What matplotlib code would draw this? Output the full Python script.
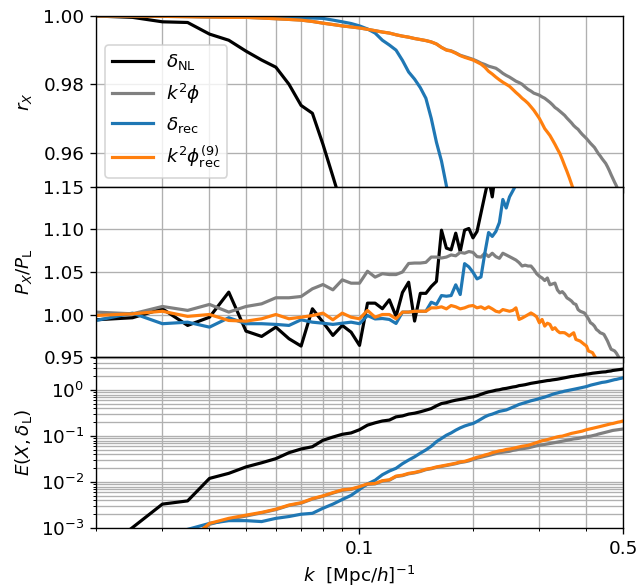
import numpy as np
import matplotlib
matplotlib.use("Agg")
import matplotlib.pyplot as plt
from matplotlib.ticker import FixedLocator, NullFormatter, LogLocator, FixedFormatter

# ---------------- data ----------------
# k bins [Mpc/h]^-1 (uniform bins of 0.005)
k = np.round(np.arange(0.020, 0.5001, 0.005), 3)

# series start k (first bin) for each array
start_r_nl, start_r_phi, start_r_rec, start_r_phirec = 0.020, 0.020, 0.020, 0.020

# top panel: cross-correlation coefficient r_X
r_nl = [1.0000, 0.9996, 0.9983, 0.9981, 0.9947, 0.9929, 0.9897, 0.9871, 0.9850, 0.9800,
        0.9738, 0.9715, 0.9624, 0.9530, 0.9440]
r_rec = [1.0000, 1.0000, 0.9999, 0.9999, 0.9998, 0.9998, 0.9997, 0.9996, 0.9996, 0.9995,
         0.9994, 0.9994, 0.9993, 0.9988, 0.9983, 0.9978, 0.9971, 0.9962, 0.9950, 0.9929,
         0.9915, 0.9900, 0.9870, 0.9836, 0.9815, 0.9790, 0.9759, 0.9700, 0.9630, 0.9575,
         0.9503, 0.9430]
r_phirec = [1.0000, 0.99995, 0.9999, 0.9998, 0.9997, 0.9996, 0.9996, 0.9994, 0.9992, 0.9990,
            0.9988, 0.9984, 0.9979, 0.9975, 0.9971, 0.9968, 0.9965, 0.9961, 0.9957, 0.9953,
            0.9950, 0.9945, 0.9941, 0.9938, 0.9934, 0.9931, 0.9928, 0.9924, 0.9918, 0.9908,
            0.9900, 0.9897, 0.9891, 0.9884, 0.9879, 0.9875, 0.9871, 0.9865, 0.9859, 0.9850,
            0.9838, 0.9830, 0.9821, 0.9813, 0.9806, 0.9800, 0.9794, 0.9785, 0.9776, 0.9768,
            0.9759, 0.9752, 0.9744, 0.9734, 0.9724, 0.9712, 0.9700, 0.9685, 0.9670, 0.9660,
            0.9650, 0.9637, 0.9624, 0.9610, 0.9597, 0.9580, 0.9562, 0.9545, 0.9527, 0.9508,
            0.9488, 0.9470]
r_phi = [1.0000, 0.99995, 0.9999, 0.9998, 0.9997, 0.9996, 0.9996, 0.9994, 0.9992, 0.9990,
         0.9988, 0.9984, 0.9979, 0.9975, 0.9971, 0.9968, 0.9965, 0.9961, 0.9957, 0.9953,
         0.9950, 0.9945, 0.9941, 0.9938, 0.9934, 0.9931, 0.9928, 0.9924, 0.9918, 0.9908,
         0.9901, 0.9898, 0.9892, 0.9885, 0.9881, 0.9877, 0.9873, 0.9868, 0.9862, 0.9858,
         0.9853, 0.9850, 0.9847, 0.9840, 0.9832, 0.9826, 0.9821, 0.9815, 0.9809, 0.9805,
         0.9800, 0.9792, 0.9785, 0.9780, 0.9774, 0.9771, 0.9768, 0.9763, 0.9759, 0.9753,
         0.9747, 0.9740, 0.9732, 0.9727, 0.9721, 0.9715, 0.9709, 0.9701, 0.9694, 0.9687,
         0.9679, 0.9673, 0.9668, 0.9660, 0.9653, 0.9647, 0.9641, 0.9634, 0.9627, 0.9621,
         0.9615, 0.9606, 0.9597, 0.9590, 0.9582, 0.9575, 0.9568, 0.9558, 0.9547, 0.9535,
         0.9524, 0.9513, 0.9503, 0.9491, 0.9480, 0.9470, 0.9460]

# middle panel: P_X / P_L
p_nl = [0.9940, 0.9964, 1.0069, 0.9874, 0.9970, 1.0264, 0.9807, 0.9745, 0.9854, 0.9718,
        0.9632, 1.0069, 0.9912, 0.9757, 0.9874, 0.9795, 0.9640, 1.0135, 1.0135, 1.0070,
        1.0174, 0.9980, 1.0260, 1.0380, 0.9925, 1.0250, 1.0250, 1.0330, 1.0390, 1.0990,
        1.0780, 1.0760, 1.0955, 1.0740, 1.0990, 1.1010, 1.0900, 1.0975, 1.1190, 1.1400,
        1.1600, 1.1380, 1.1700, 1.1900]
p_phi = [1.0030, 1.0010, 1.0096, 1.0050, 1.0120, 1.0030, 1.0096, 1.0127, 1.0198, 1.0198,
         1.0213, 1.0303, 1.0353, 1.0291, 1.0408, 1.0369, 1.0369, 1.0509, 1.0440, 1.0480,
         1.0470, 1.0470, 1.0500, 1.0600, 1.0605, 1.0605, 1.0613, 1.0675, 1.0675, 1.0664,
         1.0675, 1.0700, 1.0690, 1.0730, 1.0720, 1.0740, 1.0730, 1.0680, 1.0675, 1.0720,
         1.0680, 1.0720, 1.0680, 1.0660, 1.0720, 1.0700, 1.0680, 1.0660, 1.0640, 1.0610,
         1.0570, 1.0580, 1.0570, 1.0570, 1.0530, 1.0480, 1.0450, 1.0430, 1.0400, 1.0430,
         1.0350, 1.0360, 1.0370, 1.0290, 1.0255, 1.0270, 1.0240, 1.0197, 1.0180, 1.0160,
         1.0130, 1.0120, 1.0060, 1.0040, 1.0030, 1.0020, 0.9985, 0.9950, 0.9905, 0.9890,
         0.9866, 0.9827, 0.9810, 0.9788, 0.9780, 0.9769, 0.9730, 0.9690, 0.9640, 0.9594,
         0.9585, 0.9575, 0.9550, 0.9516, 0.9480, 0.9460, 0.9430]
p_rec = [0.9932, 1.0018, 0.9894, 0.9912, 0.9854, 0.9964, 0.9894, 0.9894, 0.9886, 0.9874,
         0.9940, 0.9912, 0.9900, 0.9886, 0.9900, 0.9912, 0.9894, 0.9990, 0.9950, 0.9955,
         0.9944, 0.9897, 1.0030, 1.0030, 1.0040, 1.0040, 1.0040, 1.0146, 1.0120, 1.0224,
         1.0216, 1.0224, 1.0350, 1.0236, 1.0598, 1.0560, 1.0497, 1.0419, 1.0442, 1.0720,
         1.0963, 1.0917, 1.0975, 1.1080, 1.1350, 1.1250, 1.1380, 1.1450, 1.1520, 1.1600]
p_phirec = [0.9990, 1.0010, 1.0040, 0.9980, 1.0002, 0.9932, 0.9924, 0.9952, 1.0002, 0.9952,
            0.9970, 0.9990, 1.0018, 0.9940, 1.0018, 0.9970, 0.9952, 1.0050, 0.9970, 1.0002,
            1.0002, 0.9952, 1.0030, 1.0030, 1.0040, 1.0040, 1.0040, 1.0080, 1.0080, 1.0092,
            1.0068, 1.0107, 1.0092, 1.0068, 1.0080, 1.0100, 1.0107, 1.0080, 1.0092, 1.0068,
            1.0092, 1.0068, 1.0040, 1.0030, 1.0060, 1.0050, 1.0040, 1.0050, 1.0080, 0.9944,
            0.9960, 0.9980, 1.0000, 1.0020, 1.0000, 0.9975, 0.9905, 0.9944, 0.9866, 0.9900,
            0.9886, 0.9827, 0.9847, 0.9810, 0.9788, 0.9790, 0.9788, 0.9770, 0.9750, 0.9770,
            0.9788, 0.9710, 0.9700, 0.9690, 0.9670, 0.9650, 0.9633, 0.9574, 0.9565, 0.9555,
            0.9516, 0.9480]

# bottom panel: log10 E(X, delta_L); first bins differ per series
start_E_nl, start_E_rec, start_E_phi, start_E_phirec = 0.020, 0.030, 0.035, 0.035
logE_nl = [-3.60, -2.99, -2.48, -2.41, -1.92, -1.81, -1.67, -1.58, -1.49, -1.36,
           -1.28, -1.23, -1.09, -1.02, -0.96, -0.93, -0.86, -0.76, -0.71, -0.67,
           -0.65, -0.58, -0.56, -0.52, -0.50, -0.47, -0.435, -0.40, -0.34, -0.29,
           -0.27, -0.24, -0.217, -0.20, -0.18, -0.16, -0.145, -0.12, -0.09, -0.06,
           -0.036, -0.02, 0.00, 0.01, 0.03, 0.04, 0.055, 0.07, 0.08, 0.10,
           0.109, 0.12, 0.135, 0.15, 0.16, 0.17, 0.181, 0.19, 0.20, 0.21,
           0.215, 0.225, 0.232, 0.24, 0.25, 0.26, 0.27, 0.28, 0.29, 0.30,
           0.305, 0.315, 0.32, 0.33, 0.335, 0.345, 0.35, 0.355, 0.362, 0.37,
           0.375, 0.38, 0.385, 0.39, 0.395, 0.398, 0.40, 0.41, 0.415, 0.42,
           0.43, 0.435, 0.44, 0.445, 0.45, 0.455, 0.46]
logE_rec = [-3.25, -3.03, -2.90, -2.84, -2.84, -2.86, -2.79, -2.75, -2.70, -2.68,
            -2.57, -2.48, -2.38, -2.29, -2.16, -2.04, -1.96, -1.84, -1.76, -1.70,
            -1.60, -1.52, -1.45, -1.37, -1.30, -1.22, -1.12, -1.05, -0.98, -0.93,
            -0.87, -0.82, -0.78, -0.75, -0.725, -0.68, -0.63, -0.58, -0.543, -0.52,
            -0.49, -0.46, -0.445, -0.43, -0.40, -0.37, -0.34, -0.31, -0.29, -0.27,
            -0.25, -0.23, -0.215, -0.20, -0.181, -0.165, -0.15, -0.13, -0.11, -0.09,
            -0.072, -0.06, -0.045, -0.035, -0.02, -0.01, 0.00, 0.01, 0.02, 0.03,
            0.04, 0.05, 0.06, 0.07, 0.08, 0.095, 0.109, 0.12, 0.13, 0.14,
            0.15, 0.16, 0.17, 0.175, 0.181, 0.19, 0.20, 0.21, 0.22, 0.23,
            0.235, 0.245, 0.254, 0.26, 0.27]
logE_phirec = [-3.30, -2.90, -2.79, -2.72, -2.66, -2.59, -2.50, -2.45, -2.36, -2.30,
               -2.23, -2.17, -2.15, -2.10, -2.04, -2.03, -1.97, -1.95, -1.87, -1.85,
               -1.81, -1.79, -1.76, -1.72, -1.70, -1.67, -1.65, -1.63, -1.61, -1.59,
               -1.56, -1.55, -1.52, -1.49, -1.46, -1.44, -1.41, -1.39, -1.36, -1.34,
               -1.32, -1.31, -1.29, -1.28, -1.268, -1.25, -1.235, -1.22, -1.21, -1.20,
               -1.18, -1.16, -1.14, -1.12, -1.10, -1.09, -1.075, -1.06, -1.045, -1.03,
               -1.015, -1.005, -1.00, -0.985, -0.97, -0.955, -0.94, -0.93, -0.92, -0.91,
               -0.90, -0.89, -0.875, -0.86, -0.85, -0.84, -0.83, -0.82, -0.81, -0.80,
               -0.79, -0.78, -0.77, -0.76, -0.75, -0.74, -0.73, -0.725, -0.715, -0.705,
               -0.695, -0.689, -0.68, -0.67]
logE_phi = [-3.32, -2.92, -2.81, -2.74, -2.67, -2.60, -2.51, -2.46, -2.37, -2.31,
            -2.24, -2.18, -2.16, -2.11, -2.05, -2.04, -1.98, -1.96, -1.88, -1.86,
            -1.82, -1.80, -1.77, -1.73, -1.71, -1.68, -1.66, -1.64, -1.62, -1.60,
            -1.575, -1.56, -1.54, -1.51, -1.48, -1.46, -1.44, -1.42, -1.40, -1.38,
            -1.36, -1.35, -1.34, -1.33, -1.31, -1.30, -1.285, -1.275, -1.265, -1.255,
            -1.24, -1.225, -1.21, -1.20, -1.19, -1.18, -1.17, -1.16, -1.15, -1.14,
            -1.13, -1.12, -1.11, -1.10, -1.09, -1.08, -1.07, -1.06, -1.055, -1.05,
            -1.04, -1.03, -1.02, -1.015, -1.005, -1.00, -0.99, -0.98, -0.97, -0.955,
            -0.945, -0.935, -0.925, -0.915, -0.905, -0.895, -0.885, -0.875, -0.87, -0.865,
            -0.86, -0.855, -0.85, -0.845]

labels = [r"$\delta_{\rm NL}$", r"$k^2\phi$", r"$\delta_{\rm rec}$", r"$k^2\phi^{(9)}_{\rm rec}$"]
colors = ["black", "gray", "C0", "C1"]
x_ticks = [0.1, 0.5]
x_ticklabels = ["0.1", "0.5"]


def kslice(start, vals):
    i0 = int(round((start - 0.020) / 0.005))
    return k[i0:i0 + len(vals)]


# ---------------- figure ----------------
DPI = 120
fig = plt.figure(figsize=(637 / DPI, 587 / DPI), dpi=DPI)
gs = fig.add_gridspec(3, 1, left=96 / 637, right=623 / 637,
                      top=1 - 16 / 587, bottom=1 - 528 / 587, hspace=0)
ax1 = fig.add_subplot(gs[0])
ax2 = fig.add_subplot(gs[1], sharex=ax1)
ax3 = fig.add_subplot(gs[2], sharex=ax1)

lw = 1.9
top_series = [r_nl, r_phi, r_rec, r_phirec]
top_starts = [start_r_nl, start_r_phi, start_r_rec, start_r_phirec]
for vals, st, c, lab in zip(top_series, top_starts, colors, labels):
    ax1.plot(kslice(st, vals), vals, color=c, lw=lw, label=lab)

mid_series = [p_nl, p_phi, p_rec, p_phirec]
for vals, c in zip(mid_series, colors):
    ax2.plot(kslice(0.020, vals), vals, color=c, lw=lw)

bot_series = [logE_nl, logE_phi, logE_rec, logE_phirec]
bot_starts = [start_E_nl, start_E_phi, start_E_rec, start_E_phirec]
for vals, st, c in zip(bot_series, bot_starts, colors):
    ax3.plot(kslice(st, vals), 10.0 ** np.asarray(vals), color=c, lw=lw)

ax1.set_xscale("log")
ax1.set_xlim(0.02, 0.5)

ax1.set_ylim(0.95, 1.0)
ax1.set_yticks([0.96, 0.98, 1.00])
ax1.set_yticklabels(["0.96", "0.98", "1.00"])
ax2.set_ylim(0.95, 1.15)
ax2.set_yticks([0.95, 1.00, 1.05, 1.10, 1.15])
ax2.set_yticklabels(["0.95", "1.00", "1.05", "1.10", "1.15"])
ax3.set_yscale("log")
ax3.set_ylim(1e-3, 5.2)
ax3.yaxis.set_major_locator(LogLocator(base=10, numticks=10))
ax3.yaxis.set_minor_locator(LogLocator(base=10, subs=np.arange(2, 10), numticks=20))

for ax in (ax1, ax2, ax3):
    ax.xaxis.set_major_locator(FixedLocator(x_ticks))
    ax.xaxis.set_minor_locator(LogLocator(base=10, subs=np.arange(2, 10), numticks=10))
    ax.xaxis.set_minor_formatter(NullFormatter())
    ax.grid(True, which="both", color="#b0b0b0", lw=0.8)
    ax.tick_params(labelsize=11)

ax3.xaxis.set_major_formatter(FixedFormatter(x_ticklabels))
plt.setp(ax1.get_xticklabels(), visible=False)
plt.setp(ax2.get_xticklabels(), visible=False)

ax1.set_ylabel(r"$r_X$", fontsize=11)
ax2.set_ylabel(r"$P_X/P_{\rm L}$", fontsize=11)
ax3.set_ylabel(r"$E(X,\delta_{\rm L})$", fontsize=11)
ax3.set_xlabel(r"$k$  [Mpc/$h$]$^{-1}$", fontsize=11)
fig.align_ylabels([ax1, ax2, ax3])

ax1.legend(loc="lower left", fontsize=11, handlelength=2.2, handletextpad=0.7)

fig.savefig("out.png", dpi=DPI)
